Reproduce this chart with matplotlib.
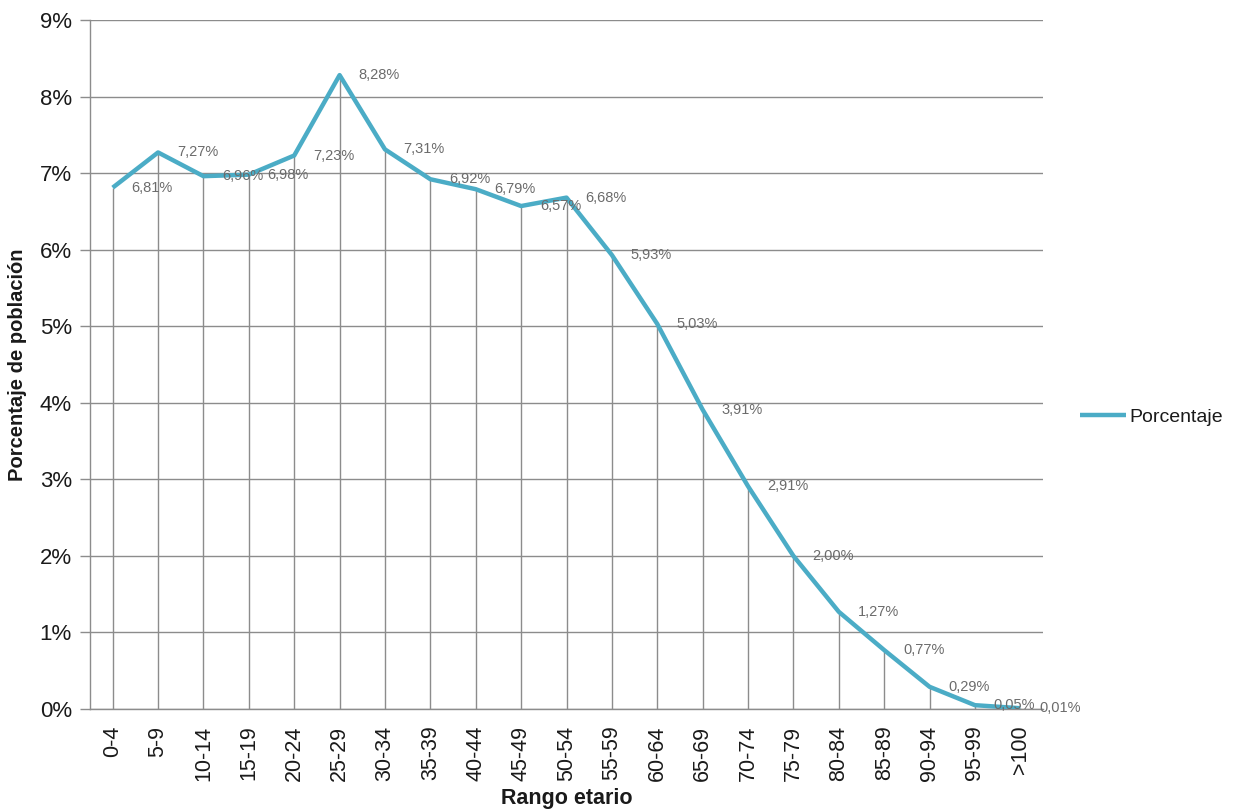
import matplotlib
matplotlib.use("Agg")
import matplotlib.pyplot as plt
from matplotlib import font_manager
from matplotlib.ticker import FuncFormatter, MultipleLocator

# Population share by age bracket
categories = ["0-4", "5-9", "10-14", "15-19", "20-24", "25-29", "30-34", "35-39",
              "40-44", "45-49", "50-54", "55-59", "60-64", "65-69", "70-74",
              "75-79", "80-84", "85-89", "90-94", "95-99", ">100"]
porcentaje = [6.81, 7.27, 6.96, 6.98, 7.23, 8.28, 7.31, 6.92, 6.79, 6.57, 6.68,
              5.93, 5.03, 3.91, 2.91, 2.00, 1.27, 0.77, 0.29, 0.05, 0.01]

available = {f.name for f in font_manager.fontManager.ttflist}
narrow = "Liberation Sans Narrow" if "Liberation Sans Narrow" in available else "Liberation Sans"
base = "Liberation Sans"

line_color = "#4BACC6"
grid_color = "#8c8c8c"
label_color = "#6b6b6b"
text_color = "#1a1a1a"

fig = plt.figure(figsize=(12.35, 8.10), dpi=100)
ax = fig.add_axes([90 / 1235, 1 - 709 / 810, (1043 - 90) / 1235, (709 - 20) / 810])

x = list(range(len(categories)))
ax.set_xlim(-0.5, len(categories) - 0.5)
ax.set_ylim(0, 9)

# horizontal gridlines
ax.yaxis.set_major_locator(MultipleLocator(1))
ax.grid(axis="y", color=grid_color, linewidth=1.0)
ax.set_axisbelow(True)

# drop lines from each point to the baseline
ax.vlines(x, 0, porcentaje, colors=grid_color, linewidth=1.0, zorder=1)

ax.plot(x, porcentaje, color=line_color, linewidth=3.2, solid_joinstyle="round",
        solid_capstyle="butt", zorder=3, label="Porcentaje")

for xi, v in zip(x, porcentaje):
    ax.annotate(f"{v:.2f}%".replace(".", ","), (xi, v), xytext=(13.5, 0),
                textcoords="offset points", ha="left", va="center",
                fontsize=10.5, color=label_color, family=base, zorder=4)

for side in ("top", "right"):
    ax.spines[side].set_visible(False)
for side in ("left", "bottom"):
    ax.spines[side].set_color(grid_color)
    ax.spines[side].set_linewidth(1.0)

ax.yaxis.set_major_formatter(FuncFormatter(lambda v, p: f"{int(round(v))}%"))
ax.tick_params(axis="y", length=7, width=1.0, color=grid_color, pad=6,
               labelsize=16, labelcolor=text_color)
for t in ax.get_yticklabels():
    t.set_family(base)

ax.set_xticks(x)
ax.set_xticklabels(categories, rotation=90, family=base, fontsize=15.5, color=text_color)
ax.tick_params(axis="x", length=0, pad=12)

ax.set_xlabel("Rango etario", family=narrow, fontweight="bold", fontsize=15.5, color=text_color)
ax.xaxis.set_label_coords(0.5, -0.115)
ax.set_ylabel("Porcentaje de población", family=narrow, fontweight="bold", fontsize=14.5,
              color=text_color, va="center")
ax.yaxis.set_label_coords((18 - 90) / 953, 0.5)

fig.legend(loc="center left", bbox_to_anchor=(1062 / 1235, 1 - 417 / 810), frameon=False,
           handlelength=2.4, handletextpad=0.15,
           prop={"family": base, "size": 14})
for t in fig.legends[0].get_texts():
    t.set_color(text_color)

fig.savefig("out.png", dpi=100)
